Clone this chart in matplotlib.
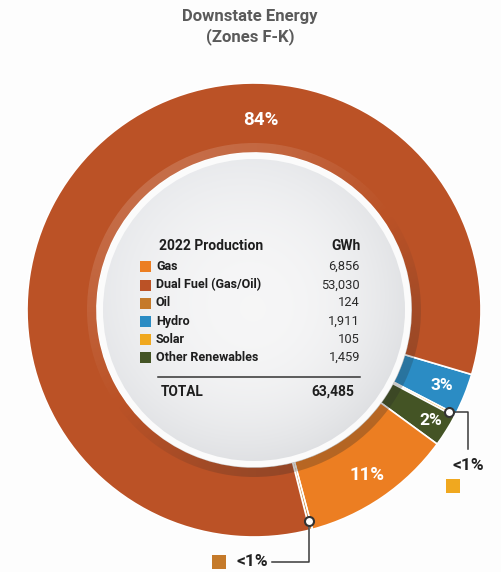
import numpy as np
import matplotlib.pyplot as plt
from matplotlib.patches import Circle, Wedge, Rectangle

# ---------------- data ----------------
categories = ["Gas", "Dual Fuel (Gas/Oil)", "Oil", "Hydro", "Solar", "Other Renewables"]
gwh = [6856, 53030, 124, 1911, 105, 1459]
value_labels = ["6,856", "53,030", "124", "1,911", "105", "1,459"]
colors = ["#ec7e22", "#bb5226", "#c57a2a", "#2b8cc4", "#f0a81f", "#445425"]
pct_labels = ["11%", "84%", "<1%", "3%", "<1%", "2%"]
ring_order = [3, 4, 5, 0, 2, 1]          # clockwise order around the ring, starting at Hydro
total_label = "63,485"
table_header = ["2022 Production", "GWh"]
title = "Downstate Energy\n(Zones F-K)"

# ---------------- layout ----------------
W, H = 502, 572
FONT = ["Roboto", "DejaVu Sans"]
plt.rcParams["font.family"] = FONT

fig = plt.figure(figsize=(W / 100, H / 100), dpi=100, facecolor="#fdfdfd")
ax = fig.add_axes([0, 0, 1, 1])
ax.set_facecolor("#fdfdfd")

def Y(y_img):
    return H - y_img

cx, cy = 254, Y(310)
R, RW = 227, 70
R_IN = R - RW

wedges, _ = ax.pie([gwh[i] for i in ring_order],
                   colors=[colors[i] for i in ring_order],
                   radius=R, center=(cx, cy), startangle=-16.5, counterclock=False,
                   wedgeprops=dict(width=RW, edgecolor="white", linewidth=1.2))
for w in wedges:
    w.set_zorder(1)

def mid_angle(cat_idx):
    w = wedges[ring_order.index(cat_idx)]
    return np.deg2rad((w.theta1 + w.theta2) / 2)

# shading band on inner edge of ring (light top-left, dark bottom-right)
n = 400
xs = np.linspace(cx - R, cx + R, n)
ys = np.linspace(cy - R, cy + R, n)
XX, YY = np.meshgrid(xs, ys)
phi = np.arctan2(YY - cy, XX - cx)
v = np.cos(phi - np.deg2rad(125))
band = np.zeros((n, n, 4))
pos = v > 0
band[pos, :3] = 1.0
band[pos, 3] = 0.16 * v[pos]
band[~pos, :3] = 0.15
band[~pos, 3] = 0.28 * (-v[~pos])
im = ax.imshow(band, extent=(cx - R, cx + R, cy - R, cy + R), origin="lower", zorder=2)
band_patch = Wedge((cx, cy), R_IN + 10, 0, 360, width=10, transform=ax.transData)
im.set_clip_path(band_patch)

# white disk and gradient
ax.add_patch(Circle((cx, cy), R_IN, fc="#fbfbfb", ec="none", zorder=3))
rd = R_IN - 6
dist = np.hypot(XX - cx, YY - cy) / rd
c_center = np.array([0.965, 0.965, 0.968])
c_edge = np.array([0.895, 0.9, 0.91])
t = np.clip(dist, 0, 1) ** 2.2
g = c_center[None, None, :] * (1 - t[..., None]) + c_edge[None, None, :] * t[..., None]
g += (0.02 * v)[..., None] * t[..., None]
g = np.clip(g, 0, 1)
im2 = ax.imshow(g, extent=(cx - R, cx + R, cy - R, cy + R), origin="lower", zorder=4)
im2.set_clip_path(Circle((cx, cy), rd, transform=ax.transData))

# percentage labels on the ring
lab_r = {0: 200, 3: 202, 5: 208}
for ci in [0, 3, 5]:
    a = mid_angle(ci)
    ax.text(cx + lab_r[ci] * np.cos(a), cy + lab_r[ci] * np.sin(a), pct_labels[ci],
            ha="center", va="center", color="white", fontsize=13.5 if ci == 0 else 12.5,
            fontweight="bold", zorder=6)
a84 = np.deg2rad(88)
ax.text(cx + 190 * np.cos(a84), cy + 190 * np.sin(a84), pct_labels[1], ha="center", va="center",
        color="white", fontsize=13.5, fontweight="bold", zorder=6)

# callouts for <1% segments
line_c = "#3a3a3a"
# Solar
a = mid_angle(4)
mx, my = cx + 220 * np.cos(a), cy + 220 * np.sin(a)
ax.plot([mx, 468, 468], [my, my, Y(449)], color=line_c, lw=1.1, zorder=7)
ax.plot([mx], [my], marker="o", ms=6.5, mfc="white", mec="#333333", mew=1.5, zorder=8)
ax.text(468, Y(465), pct_labels[4], ha="center", va="center", fontsize=12.5,
        fontweight="bold", color="#222222", zorder=7)
ax.add_patch(Rectangle((453 - 7, Y(486) - 7), 14, 14, fc=colors[4], ec="none", zorder=7))
# Oil
a = mid_angle(2)
mx, my = cx + 218 * np.cos(a), cy + 218 * np.sin(a)
ax.plot([mx, mx, 272], [my, Y(562), Y(562)], color=line_c, lw=1.1, zorder=7)
ax.plot([mx], [my], marker="o", ms=6.5, mfc="white", mec="#333333", mew=1.5, zorder=8)
ax.text(268, Y(562), pct_labels[2], ha="right", va="center", fontsize=12.5,
        fontweight="bold", color="#222222", zorder=7)
ax.add_patch(Rectangle((219.5 - 7, Y(562) - 7), 14, 14, fc=colors[2], ec="none", zorder=7))

# table inside the disk
txt_c = "#1e1e1e"
ax.text(159, Y(246), table_header[0], ha="left", va="center", fontsize=10, fontweight="bold",
        color=txt_c, zorder=6)
ax.text(361, Y(246), table_header[1], ha="right", va="center", fontsize=10, fontweight="bold",
        color=txt_c, zorder=6)
row_y = [266.5, 285, 303, 321.5, 339.5, 357.5]
for i, cat in enumerate(categories):
    yy = Y(row_y[i])
    ax.add_patch(Rectangle((140, yy - 5.5), 11, 11, fc=colors[i], ec="none", zorder=6))
    ax.text(156, yy, cat, ha="left", va="center", fontsize=9, fontweight="bold",
            color=txt_c, zorder=6)
    ax.text(360, yy, value_labels[i], ha="right", va="center", fontsize=9.3,
            color="#2a2a2a", zorder=6)
ax.plot([158, 360], [Y(377), Y(377)], color="#333333", lw=1.1, zorder=6)
ax.text(161, Y(391.5), "TOTAL", ha="left", va="center", fontsize=9.8, fontweight="bold",
        color=txt_c, zorder=6)
ax.text(354, Y(391.5), total_label, ha="right", va="center", fontsize=10, fontweight="bold",
        color=txt_c, zorder=6)

# title
ax.text(250, Y(27), title, ha="center", va="center", fontsize=12, fontweight="bold",
        color="#5a5a5a", linespacing=1.25, zorder=6)

ax.set_xlim(0, W)
ax.set_ylim(0, H)
ax.set_aspect("equal")
ax.axis("off")
fig.savefig("out.png", dpi=100, facecolor=fig.get_facecolor())
